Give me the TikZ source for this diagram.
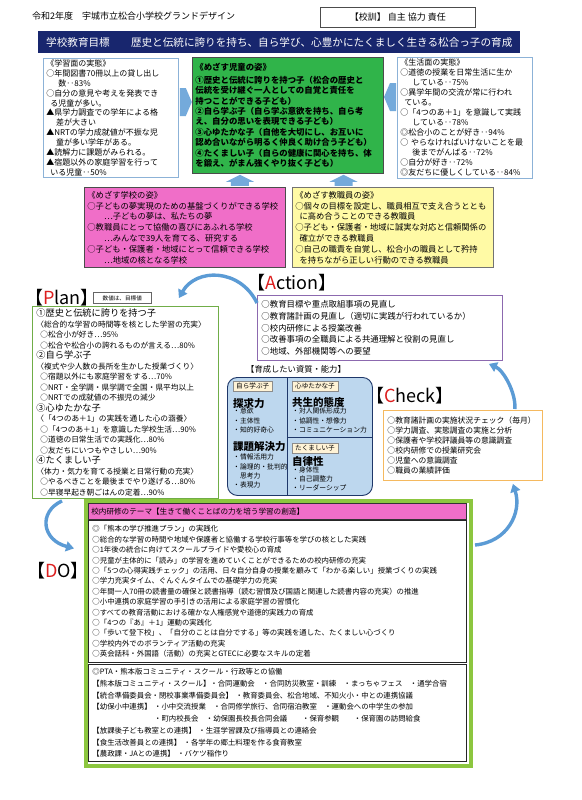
\documentclass[tikz,border=0pt]{standalone}
\usepackage{fontspec}
\setmainfont{Noto Sans CJK JP}
\usetikzlibrary{arrows.meta, calc, positioning}
\definecolor{banner}{RGB}{24,38,110}
\definecolor{jidoGreen}{RGB}{48,180,74}
\definecolor{gakkoPink}{RGB}{240,110,200}
\definecolor{kyoYellow}{RGB}{255,250,165}
\definecolor{paleBlue}{RGB}{140,178,215}
\definecolor{actPurple}{RGB}{140,105,175}
\definecolor{planGreen}{RGB}{112,173,71}
\definecolor{checkOrange}{RGB}{245,185,95}
\definecolor{doGreen}{RGB}{140,198,63}
\definecolor{skyFill}{RGB}{189,215,238}
\definecolor{skyLine}{RGB}{30,55,105}
\definecolor{tagCream}{RGB}{255,243,214}
\definecolor{arcBlue}{RGB}{91,155,213}
\definecolor{pdcaRed}{RGB}{220,30,30}
\newcommand{\fsz}[2]{\fontsize{#1}{#2}\selectfont}

\begin{document}
\begin{tikzpicture}[x=1pt, y=-1pt,
    jitsubox/.style={rectangle, draw=paleBlue, line width=0.8pt, fill=white,
                     anchor=north west, align=left, inner xsep=3pt,
                     inner ysep=1pt, font=\fsz{8}{9.9}},
    sugata/.style={rectangle, draw=black!70, line width=0.8pt,
                   anchor=north west, align=left, inner xsep=3pt,
                   inner ysep=1pt},
    listbox/.style={rectangle, line width=0.9pt, fill=white,
                    anchor=north west, align=left, inner xsep=4pt,
                    inner ysep=1pt},
    pdca/.style={font=\fsz{18}{19}, inner sep=0pt},
    tagbox/.style={rectangle, draw=black!45, fill=tagCream, line width=0.4pt,
                   anchor=north west, font=\fsz{6.6}{7}, inner xsep=3pt,
                   inner ysep=2pt},
    nouryoku/.style={anchor=west, inner sep=0pt,
                     font=\bfseries\fsz{10.5}{12}},
    youso/.style={anchor=north west, align=left, inner sep=0pt,
                  font=\fsz{6.8}{9.2}},
    cyclearc/.style={draw=arcBlue, line width=3.4pt,
                     -{Triangle[length=8pt,width=10pt]}},
    blockarrow/.style={fill=arcBlue!85},
]
\path[use as bounding box, fill=white] (0,0) rectangle (581,800);

% ==========================================================
% Header and school goal
% ==========================================================
\node[anchor=west, inner sep=0pt, font=\fsz{9}{10}] (title) at (32,16)
    {令和2年度　宇城市立松合小学校グランドデザイン};
\node[draw=black!70, line width=0.6pt, anchor=north west,
      minimum width=155pt, minimum height=20pt, font=\fsz{9}{10}] (kokun)
    at (320,7) {【校訓】 自主 協力 責任};
\node[fill=banner, text=white, anchor=north west, text width=466pt,
      minimum height=22pt, inner xsep=8pt, align=left,
      font=\fsz{10.6}{11}] (mokuhyo) at (38,31)
    {学校教育目標　　歴史と伝統に誇りを持ち、自ら学び、心豊かにたくましく生きる松合っ子の育成};

% ==========================================================
% Present state and aims
% ==========================================================
\node[jitsubox, text width=129pt, minimum height=119pt] (gakushu) at (43,58)
    {《学習面の実態》\\
     ○年間図書70冊以上の貸し出し\\
     \hspace*{1.5em}数‥83\%\\
     ○自分の意見や考えを発表でき\\
     \hspace*{0.5em}る児童が多い。\\
     ▲県学力調査での学年による格\\
     \hspace*{1.2em}差が大きい\\
     ▲NRTの学力成就値が不振な児\\
     \hspace*{1.2em}童が多い学年がある。\\
     ▲読解力に課題がみられる。\\
     ▲宿題以外の家庭学習を行って\\
     \hspace*{0.5em}いる児童‥50\%};

\node[sugata, fill=jidoGreen, text width=185pt, minimum height=116pt,
      font=\bfseries\fsz{8.4}{10.4}] (jido) at (192,57)
    {《めざす児童の姿》\\[2pt]
     ①歴史と伝統に誇りを持つ子（松合の歴史と\\
     伝統を受け継ぐ一人としての自覚と責任を\\
     持つことができる子ども）\\
     ②自ら学ぶ子（自ら学ぶ意欲を持ち、自ら考\\
     え、自分の思いを表現できる子ども）\\
     ③心ゆたかな子（自他を大切にし、お互いに\\
     認め合いながら明るく仲良く助け合う子ども）\\
     ④たくましい子（自らの健康に関心を持ち、体\\
     を鍛え、がまん強くやり抜く子ども）};

\node[jitsubox, text width=129pt, minimum height=121pt, font=\fsz{8}{10}]
    (seikatsu) at (397,57)
    {《生活面の実態》\\
     ○道徳の授業を日常生活に生か\\
     \hspace*{1.5em}している‥75\%\\
     ○異学年間の交流が常に行われ\\
     \hspace*{0.5em}ている。\\
     ○「4つのあ＋1」を意識して実践\\
     \hspace*{1.5em}している‥78\%\\
     ◎松合小のことが好き‥94\%\\
     ○ やらなければいけないことを最\\
     \hspace*{1.5em}後までがんばる‥72\%\\
     ○自分が好き‥72\%\\
     ◎友だちに優しくしている‥84\%};

% -------- block arrows into the aims -----------
\fill[blockarrow] ($(gakushu.north east)+(1,30)$) -- ++(6,0) -- ++(6,14)
    -- ++(-6,14) -- ++(-6,0) -- cycle;
\fill[blockarrow] ($(seikatsu.north west)+(-1,26)$) -- ++(-6,0) -- ++(-6,14)
    -- ++(6,14) -- ++(6,0) -- cycle;
\foreach \pos/\nm in {0.25/upA, 0.79/upB}{
  \coordinate (\nm) at ($(jido.south west)!\pos!(jido.south east)+(0,12)$);
  \fill[blockarrow] (\nm) -- ++(-9,0) -- ++(0,-4) -- ++(-5,0) -- ++(14,-7)
      -- ++(14,7) -- ++(-5,0) -- ++(0,4) -- cycle;
}

\node[sugata, fill=gakkoPink, text width=195pt, minimum height=80pt,
      font=\fsz{8.3}{10.8}] (gakko) at (84,187)
    {《めざす学校の姿》\\
     ○子どもの夢実現のための基盤づくりができる学校\\
     \hspace*{2em}…子どもの夢は、私たちの夢\\
     ○教職員にとって協働の喜びにあふれる学校\\
     \hspace*{2em}…みんなで39人を育てる、研究する\\
     ○子ども・保護者・地域にとって信頼できる学校\\
     \hspace*{2em}…地域の核となる学校};
\node[sugata, draw=black!55, fill=kyoYellow, text width=195pt,
      minimum height=80pt, font=\fsz{8.3}{10.8}] (kyoshoku) at (292,187)
    {《めざす教職員の姿》\\
     ○個々の目標を設定し、職員相互で支え合うととも\\
     \hspace*{0.5em}に高め合うことのできる教職員\\
     ○子ども・保護者・地域に誠実な対応と信頼関係の\\
     \hspace*{0.5em}確立ができる教職員\\
     ○自己の職責を自覚し、松合小の職員として矜持\\
     \hspace*{0.5em}を持ちながら正しい行動のできる教職員};

% ==========================================================
% Action
% ==========================================================
\node[pdca] (actionLabel) at (292,283) {【{\color{pdcaRed}A}ction】};
\node[listbox, draw=actPurple, text width=237pt, minimum height=65pt,
      font=\fsz{8.4}{11.7}] (action) at (257,295)
    {○教育目標や重点取組事項の見直し\\
     ○教育諸計画の見直し（適切に実践が行われているか）\\
     ○校内研修による授業改善\\
     ○改善事項の全職員による共通理解と役割の見直し\\
     ○地域、外部機関等への要望};

% ==========================================================
% Plan
% ==========================================================
\node[pdca] (planLabel) at (62,298) {【{\color{pdcaRed}P}lan】};
\node[draw=black!60, line width=0.5pt, anchor=west, minimum width=58pt,
      minimum height=11pt, inner sep=1pt, font=\fsz{5.6}{6}] (suchi)
    at (93,298) {数値は、目標値};
\node[listbox, draw=planGreen, text width=178pt, minimum height=192pt,
      font=\fsz{7.7}{10.5}] (plan) at (32,306)
    {{\fsz{9.2}{10.5}①歴史と伝統に誇りを持つ子}\\
     〈総合的な学習の時間等を核とした学習の充実〉\\
     \hspace*{4pt}○松合小が好き…95\%\\
     \hspace*{4pt}○松合や松合小の誇れるものが言える…80\%\\
     {\fsz{9.2}{10.5}②自ら学ぶ子}\\
     〈複式や少人数の長所を生かした授業づくり〉\\
     \hspace*{4pt}○宿題以外にも家庭学習をする…70\%\\
     \hspace*{4pt}○NRT・全学調・県学調で全国・県平均以上\\
     \hspace*{4pt}○NRTでの成就値の不振児の減少\\
     {\fsz{9.2}{10.5}③心ゆたかな子}\\
     〈「4つのあ＋1」の実践を通した心の涵養〉\\
     \hspace*{4pt}○「4つのあ＋1」を意識した学校生活…90\%\\
     \hspace*{4pt}○道徳の日常生活での実践化…80\%\\
     \hspace*{4pt}○友だちにいつもやさしい…90\%\\
     {\fsz{9.2}{10.5}④たくましい子}\\
     〈体力・気力を育てる授業と日常行動の充実〉\\
     \hspace*{4pt}○やるべきことを最後までやり遂げる…80\%\\
     \hspace*{4pt}○早寝早起き朝ごはんの定着…90\%};

% ==========================================================
% Abilities to be fostered
% ==========================================================
\node[inner sep=0pt, font=\fsz{8.3}{9}] (shishitsuLabel) at (296,369)
    {【育成したい資質・能力】};
\node[draw=skyLine, line width=0.9pt, fill=skyFill, rounded corners=10pt,
      anchor=north west, minimum width=145pt, minimum height=118pt,
      inner sep=0pt] (shishitsu) at (227,377) {};
\coordinate (divTop) at ($(shishitsu.north west)+(60,0)$);
\coordinate (divBot) at ($(shishitsu.south west)+(60,0)$);
\draw[skyLine, line width=0.7pt] (divTop) -- (divBot);
\draw[skyLine, line width=0.7pt] ($(divTop)+(0,60)$)
    -- ($(shishitsu.north east)+(0,60)$);

% -------- left column -----------
\node[tagbox] (tagManabu) at ($(shishitsu.north west)+(6,4)$) {自ら学ぶ子};
\node[nouryoku] (tankyu) at ($(shishitsu.north west)+(6,26)$) {探求力};
\node[youso] (tankyuList) at ($(shishitsu.north west)+(6,31)$)
    {・意欲\\ ・主体性\\ ・知的好奇心};
\node[nouryoku] (kadai) at ($(shishitsu.north west)+(6,70)$) {課題解決力};
\node[youso] (kadaiList) at ($(shishitsu.north west)+(6,77)$)
    {・情報活用力\\ ・論理的・批判的\\ \hspace*{1em}思考力\\ ・表現力};

% -------- right column -----------
\node[tagbox] (tagYutaka) at ($(shishitsu.north west)+(65,4)$) {心ゆたかな子};
\node[nouryoku] (kyosei) at ($(shishitsu.north west)+(65,25)$) {共生的態度};
\node[youso] (kyoseiList) at ($(shishitsu.north west)+(65,31)$)
    {・対人関係形成力\\ ・協調性・想像力\\ ・コミュニケーション力};
\node[tagbox] (tagTakumashi) at ($(shishitsu.north west)+(65,66)$) {たくましい子};
\node[nouryoku] (jiritsu) at ($(shishitsu.north west)+(65,85)$) {自律性};
\node[youso, font=\fsz{6.8}{8.6}] (jiritsuList)
    at ($(shishitsu.north west)+(65,90)$)
    {・身体性\\ ・自己調整力\\ ・リーダーシップ};

% ==========================================================
% Check
% ==========================================================
\node[pdca] (checkLabel) at (410,396) {【{\color{pdcaRed}C}heck】};
\node[listbox, draw=checkOrange, text width=151pt, minimum height=70pt,
      font=\fsz{7.8}{10}] (check) at (383,410)
    {○教育諸計画の実施状況チェック（毎月）\\
     ○学力調査、実態調査の実施と分析\\
     ○保護者や学校評議員等の意識調査\\
     ○校内研修での授業研究会\\
     ○児童への意識調査\\
     ○職員の業績評価};

% ==========================================================
% DO
% ==========================================================
\node[pdca] (doLabel) at (58,571) {【{\color{pdcaRed}D}O】};
\node[draw=doGreen, line width=4pt, anchor=north west, minimum width=385pt,
      minimum height=265pt, inner sep=0pt] (dobox) at (84,499) {};
\node[draw=black!80, fill=gakkoPink, line width=0.6pt, anchor=north west,
      text width=372pt, minimum height=16pt, inner xsep=3pt, align=left,
      font=\fsz{7.6}{8}] (theme) at (88,503)
    {校内研修のテーマ【生きて働くことばの力を培う学習の創造】};
\node[listbox, draw=black!85, text width=370pt, minimum height=142pt,
      font=\fsz{7.4}{10.4}] (jissen) at (88,520)
    {◎「熊本の学び推進プラン」の実践化\\
     ○総合的な学習の時間や地域や保護者と協働する学校行事等を学びの核とした実践\\
     ○1年後の統合に向けてスクールプライドや愛校心の育成\\
     ○児童が主体的に「読み」の学習を進めていくことができるための校内研修の充実\\
     ○「5つの心得実践チェック」の活用、日々自分自身の授業を顧みて「わかる楽しい」授業づくりの実践\\
     ○学力充実タイム、ぐんぐんタイムでの基礎学力の充実\\
     ○年間一人70冊の読書量の確保と読書指導（読む習慣及び国語と関連した読書内容の充実）の推進\\
     ○小中連携の家庭学習の手引きの活用による家庭学習の習慣化\\
     ○すべての教育活動における確かな人権感覚や道徳的実践力の育成\\
     ○「4つの『あ』＋1」運動の実践化\\
     ○「歩いて登下校」、「自分のことは自分でする」等の実践を通した、たくましい心づくり\\
     ○学校内外でのボランティア活動の充実\\
     ○英会話科・外国語（活動）の充実とGTECに必要なスキルの定着};
\node[listbox, draw=black!85, text width=370pt, minimum height=97pt,
      font=\fsz{7.4}{11.7}] (kyodo) at (88,664)
    {◎PTA・熊本版コミュニティ・スクール・行政等との協働\\
     【熊本版コミュニティ・スクール】・合同運動会　・合同防災教室・訓練　・まっちゃフェス　・通学合宿\\
     【統合準備委員会・閉校事業準備委員会】 ・教育委員会、松合地域、不知火小・中との連携協議\\
     【幼保小中連携】 ・小中交流授業　・合同修学旅行、合同宿泊教室　・運動会への中学生の参加\\
     \hphantom{【幼保小中連携】 }・町内校長会　・幼保園長校長合同会議　　・保育参観　　・保育園の訪問給食\\
     【放課後子ども教室との連携】 ・生涯学習課及び指導員との連絡会\\
     【食生活改善員との連携】 ・各学年の郷土料理を作る食育教室\\
     【農政課・JAとの連携】 ・バケツ稲作り};

% ==========================================================
% PDCA cycle arcs
% ==========================================================
\draw[cyclearc] ($(action.north west)+(0,8)$)
    .. controls (240,268) and (196,268) .. ($(plan.north east)+(-40,-8)$);
\draw[cyclearc] ($(plan.south west)+(30,2)$)
    .. controls (38,512) and (42,540) .. ($(doLabel.north)+(16,-14)$);
\draw[cyclearc] ($(dobox.north east)+(2,46)$)
    .. controls (508,542) and (522,512) .. ($(check.south east)+(-30,3)$);
\draw[cyclearc] ($(check.north east)+(-28,-1)$)
    .. controls (516,392) and (503,370) .. ($(action.south east)+(-14,3)$);

\end{tikzpicture}
\end{document}
